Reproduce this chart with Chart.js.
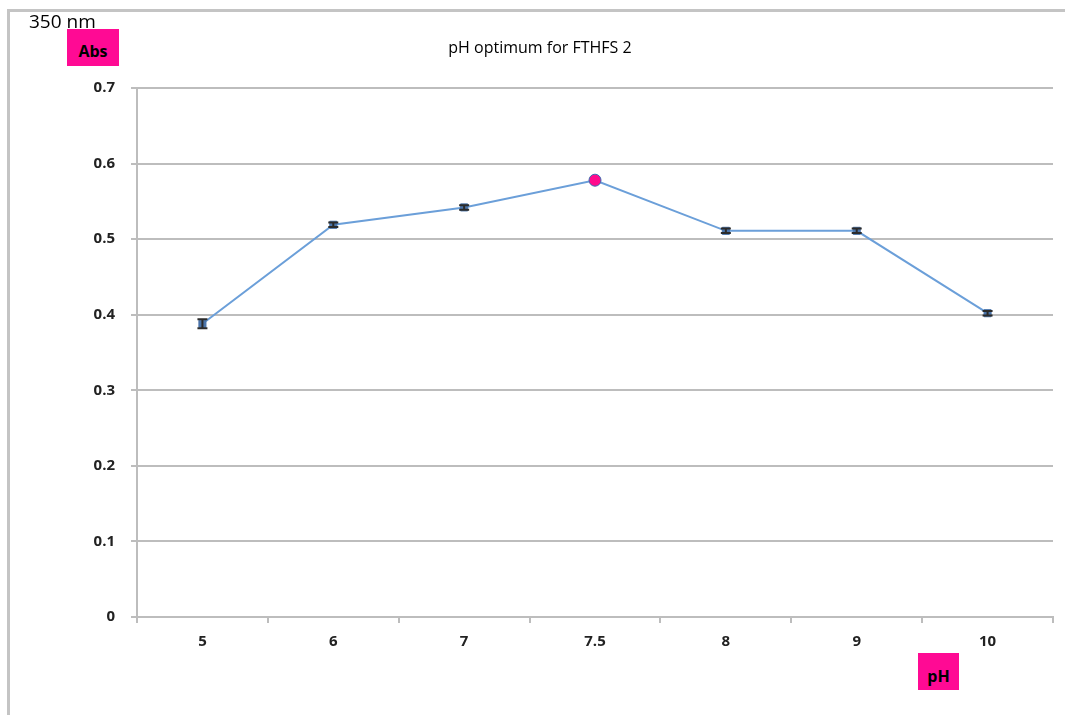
<!DOCTYPE html>
<html>
<head>
<meta charset="utf-8">
<script src="https://cdn.jsdelivr.net/npm/chart.js@4.4.0/dist/chart.umd.min.js"></script>
<style>
  html, body { margin: 0; background: #fff; overflow: hidden; font-family: "Open Sans", "Liberation Sans", sans-serif; }
  #wrap { position: relative; width: 1065px; height: 715px; overflow: hidden; }
  #frameTop { position: absolute; left: 7px; top: 9px; width: 1200px; height: 3px; background: #c4c4c4; }
  #frameLeft { position: absolute; left: 7px; top: 9px; width: 3px; height: 800px; background: #c4c4c4; }
  canvas { position: absolute; left: 0; top: 0; }
  .lbl { position: absolute; color: #000; }
  #nm { left: 29px; top: 8px; font-size: 19px; }
  #abs { left: 67px; top: 29px; width: 52px; height: 37px; background: #ff0a94;
         font-weight: bold; font-size: 16px; text-align: center; line-height: 44px; }
  #ph { left: 918px; top: 653px; width: 41px; height: 37px; background: #ff0a94;
        font-weight: bold; font-size: 16px; text-align: center; line-height: 46px; }
  #title { left: 0; width: 1080px; top: 36px; text-align: center; font-size: 16px; }
</style>
</head>
<body>
<div id="wrap">
  <div id="frameTop"></div>
  <div id="frameLeft"></div>
  <canvas id="phChart" width="1065" height="715"></canvas>
  <div class="lbl" id="title">pH optimum for FTHFS 2</div>
  <div class="lbl" id="nm">350 nm</div>
  <div class="lbl" id="abs">Abs</div>
  <div class="lbl" id="ph">pH</div>
</div>
<script>
// valores
const phLabels = ['5', '6', '7', '7.5', '8', '9', '10'];
const absValues = [0.388, 0.519, 0.542, 0.578, 0.511, 0.511, 0.402];
const absErrors = [0.006, 0.003, 0.003, 0.003, 0.003, 0.003, 0.003];
const yTicks = [0, 0.1, 0.2, 0.3, 0.4, 0.5, 0.6, 0.7];

// barras de erro
const errorBars = {
  id: 'errorBars',
  afterDatasetsDraw(chart) {
    const ctx = chart.ctx;
    const x = chart.scales.x, y = chart.scales.y;
    ctx.save();
    ctx.strokeStyle = '#2b2b2b';
    ctx.lineWidth = 2;
    absValues.forEach((v, i) => {
      if (i === 3) return;
      const px = x.getPixelForValue(i);
      const top = y.getPixelForValue(v + absErrors[i]);
      const bot = y.getPixelForValue(v - absErrors[i]);
      ctx.beginPath();
      ctx.moveTo(px, top); ctx.lineTo(px, bot);
      ctx.moveTo(px - 5, top); ctx.lineTo(px + 5, top);
      ctx.moveTo(px - 5, bot); ctx.lineTo(px + 5, bot);
      ctx.stroke();
    });
    ctx.restore();
  }
};

const ctx = document.getElementById('phChart').getContext('2d');
new Chart(ctx, {
  type: 'line',
  data: {
    labels: phLabels,
    datasets: [{
      data: absValues,
      borderColor: '#6b9fd9',
      borderWidth: 2,
      tension: 0,
      pointStyle: absValues.map((v, i) => i === 3 ? 'circle' : 'rect'),
      pointRadius: absValues.map((v, i) => i === 3 ? 6 : 5),
      pointBackgroundColor: absValues.map((v, i) => i === 3 ? '#ff0a8c' : '#4a74aa'),
      pointBorderColor: absValues.map((v, i) => i === 3 ? '#3c6bb0' : '#4a74aa'),
      pointBorderWidth: 1
    }]
  },
  options: {
    responsive: false,
    animation: false,
    layout: { padding: { left: 0, top: 88, right: 12, bottom: 0 } },
    plugins: { legend: { display: false }, tooltip: { enabled: false } },
    scales: {
      x: {
        offset: true,
        grid: { drawOnChartArea: false, drawTicks: true, tickLength: 6, color: '#bdbdbd', lineWidth: 2, offset: true },
        border: { color: '#bdbdbd', width: 2 },
        ticks: { color: '#222', font: { family: 'Open Sans', size: 15, weight: 'bold' }, padding: 10 },
        afterFit: s => { s.height = 98; }
      },
      y: {
        min: 0,
        max: 0.7,
        afterBuildTicks: s => { s.ticks = yTicks.map(v => ({ value: v })); },
        grid: { color: '#bdbdbd', lineWidth: 2, tickLength: 6 },
        border: { color: '#bdbdbd', width: 2 },
        ticks: { color: '#222', font: { family: 'Open Sans', size: 15, weight: 'bold' }, padding: 16,
                 callback: v => String(v) },
        afterFit: s => { s.width = 137; }
      }
    }
  },
  plugins: [errorBars]
});
</script>
</body>
</html>
